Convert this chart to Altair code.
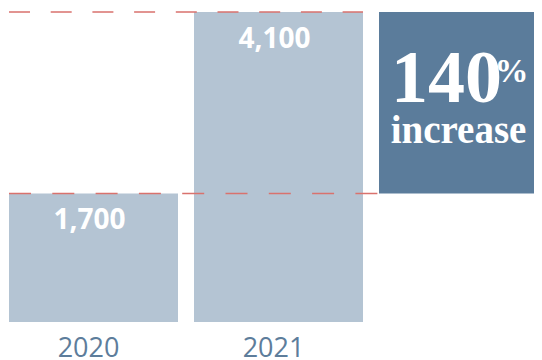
import altair as alt
import pandas as pd

years = ["2020", "2021"]
values = [1700, 4100]
value_labels = ["1,700", "4,100"]
box_slot = "box"
pct_text = ["140"]
pct_sign = ["%"]
word_text = ["increase"]

bar_df = pd.DataFrame({"year": years, "value": values, "label": value_labels})
box_df = pd.DataFrame({"year": [box_slot], "low": [values[0]], "high": [values[1]],
                       "pct": pct_text, "sign": pct_sign, "word": word_text})
top_df = pd.DataFrame({"value": [values[1]]})
low_df = pd.DataFrame({"value": [values[0]]})

xscale = alt.Scale(domain=years + [box_slot], range=[1, 540],
                   paddingInner=16 / 185, paddingOuter=0)
yscale = alt.Scale(domain=[0, values[1]], nice=False, zero=True)

xenc = alt.X("year:N", scale=xscale, sort=None,
             axis=alt.Axis(title=None, domain=False, ticks=False, tickSize=0,
                           labelAngle=0, labelFont="Open Sans", labelFontSize=27,
                           labelColor="#5d7d9b", labelBaseline="alphabetic",
                           labelPadding=34, labelOffset=-5,
                           labelExpr="datum.value == 'box' ? '' : datum.value"))

bars = alt.Chart(bar_df).mark_bar(color="#b4c4d3").encode(
    x=xenc,
    y=alt.Y("value:Q", scale=yscale, axis=None),
)

labels = alt.Chart(bar_df).mark_text(
    font="Open Sans", fontWeight="bold", fontSize=28, color="white",
    baseline="alphabetic", align="center", dy=36, dx=-4,
).encode(x=alt.X("year:N", scale=xscale, sort=None), y=alt.Y("value:Q", scale=yscale), text="label:N")

rule_top = alt.Chart(top_df).mark_rule(color="#d9726d", strokeWidth=1.5, strokeDash=[21, 20.7]).encode(
    y=alt.Y("value:Q", scale=yscale), x=alt.value(1), x2=alt.value(355))
rule_low = alt.Chart(low_df).mark_rule(color="#d9726d", strokeWidth=1.5, strokeDash=[22, 21.3]).encode(
    y=alt.Y("value:Q", scale=yscale), x=alt.value(1), x2=alt.value(370))

box = alt.Chart(box_df).mark_bar(color="#5b7c9b").encode(
    x=alt.X("year:N", scale=xscale, sort=None),
    y=alt.Y("low:Q", scale=yscale), y2="high:Q")

pct = alt.Chart(box_df).mark_text(
    font="Liberation Serif", fontWeight="bold", fontSize=74, color="white",
    baseline="alphabetic", align="center", dx=-17, dy=90,
).encode(x=alt.X("year:N", scale=xscale, sort=None), y=alt.Y("high:Q", scale=yscale), text="pct:N")

sign = alt.Chart(box_df).mark_text(
    font="Liberation Serif", fontWeight="bold", fontSize=34, color="white",
    baseline="alphabetic", align="left", dx=31, dy=70,
).encode(x=alt.X("year:N", scale=xscale, sort=None), y=alt.Y("high:Q", scale=yscale), text="sign:N")

word = alt.Chart(box_df).mark_text(
    font="Liberation Serif", fontWeight="bold", fontSize=39, color="white",
    baseline="alphabetic", align="center", dx=-5, dy=131,
).encode(x=alt.X("year:N", scale=xscale, sort=None), y=alt.Y("high:Q", scale=yscale), text="word:N")

chart = alt.layer(bars, rule_top, rule_low, box, labels, pct, sign, word).properties(
    width=526, height=310,
    padding={"left": 0, "top": 4, "right": 0, "bottom": 38},
    autosize=alt.AutoSizeParams(type="none"),
).configure_view(strokeWidth=0)

chart.save("out.html", embed_options={"renderer": "svg", "actions": False})
